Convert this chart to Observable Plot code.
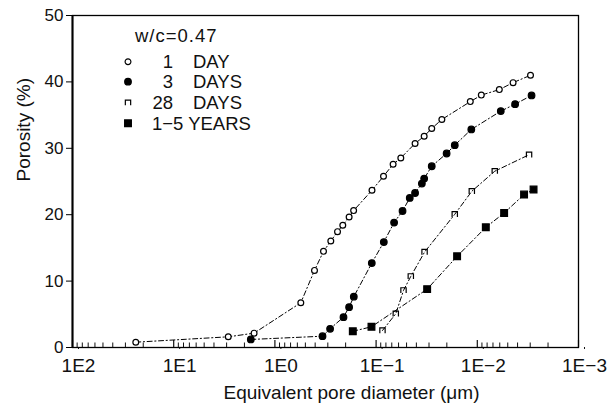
<!DOCTYPE html>
<html><head><meta charset="utf-8">
<script src="https://cdn.jsdelivr.net/npm/d3@7"></script>
<script src="https://cdn.jsdelivr.net/npm/@observablehq/plot@0.6"></script>
<style>
html,body{margin:0;padding:0;background:#fff;}
#chart{width:607px;height:409px;}
svg{font-family:"Liberation Sans",Arial,Helvetica,sans-serif;}
</style></head><body><div id="chart"></div>
<script>
// ---- data (pore diameter in µm, porosity in %) ----
const seriesNames = ["1 DAY", "3 DAYS", "28 DAYS", "1-5 YEARS"];

const day1Diam = [23.7, 2.89, 1.606, 0.5546, 0.4062, 0.331, 0.2803, 0.2406, 0.2134, 0.1848, 0.1668, 0.1098, 0.0845, 0.0679, 0.057, 0.0412, 0.0335, 0.0282, 0.0224, 0.01173, 0.00913, 0.00606, 0.00443, 0.00298];
const day1Por  = [0.8, 1.61, 2.16, 6.74, 11.61, 14.48, 16.03, 17.45, 18.4, 19.65, 20.62, 23.68, 25.79, 27.6, 28.55, 30.72, 31.82, 32.99, 34.34, 37.03, 38.01, 38.84, 39.89, 41.0];

const day3Diam = [1.73, 0.3385, 0.2848, 0.21, 0.1848, 0.1661, 0.1103, 0.0839, 0.0664, 0.0548, 0.0465, 0.0412, 0.0353, 0.0335, 0.0282, 0.0201, 0.0167, 0.01146, 0.00586, 0.00423, 0.00291];
const day3Por  = [1.21, 1.7, 2.82, 4.57, 6.08, 7.65, 12.71, 15.88, 18.81, 20.56, 22.52, 23.27, 24.69, 25.44, 27.3, 29.22, 30.47, 32.84, 35.6, 36.65, 37.96];

const day28Diam = [0.0865, 0.0639, 0.0536, 0.0454, 0.0332, 0.0167, 0.01133, 0.00672, 0.00308];
const day28Por  = [2.56, 5.08, 8.6, 10.71, 14.37, 20.06, 23.53, 26.55, 29.03];

const yearsDiam = [0.1699, 0.1111, 0.0313, 0.01583, 0.00824, 0.00543, 0.00345, 0.00278];
const yearsPor  = [2.44, 3.12, 8.79, 13.73, 18.1, 20.26, 23.03, 23.79];

const xTickValues = [100, 10, 1, 0.1, 0.01, 0.001];
const xTickLabels = ["1E2", "1E1", "1E0", "1E\u22121", "1E\u22122", "1E\u22123"];
const yTickValues = [0, 10, 20, 30, 40, 50];
const legendTitle = "w/c=0.47";
const legendNums = ["1", "3", "28", "1\u22125"];
const legendUnits = ["DAY", "DAYS", "DAYS", "YEARS"];

// ---- build tables ----
const diams = [day1Diam, day3Diam, day28Diam, yearsDiam];
const pors = [day1Por, day3Por, day28Por, yearsPor];
const rows = seriesNames.flatMap((s, k) => diams[k].map((d, i) => ({series: s, d, p: pors[k][i]})));
const labelMap = new Map(xTickValues.map((v, i) => [v, xTickLabels[i]]));
const minorTicks = [];
for (let e = -3; e < 2; e++) for (let m = 2; m <= 9; m++) minorTicks.push(+(m * Math.pow(10, e)).toPrecision(3));

// open "П"-shaped square (bottom side missing), as printed in the original
const symbolCap = {
  draw(context, size) {
    const s = Math.sqrt(size) / 2;
    context.moveTo(-s, s);
    context.lineTo(-s, -s);
    context.lineTo(s, -s);
    context.lineTo(s, s);
  }
};

const sym = {
  "1 DAY":    {symbol: d3.symbolCircle, fill: "#fff", r: 2.9},
  "3 DAYS":   {symbol: d3.symbolCircle, fill: "#000", r: 3.3},
  "28 DAYS":  {symbol: symbolCap, fill: "none", r: 3.0},
  "1-5 YEARS":{symbol: d3.symbolSquare, fill: "#000", r: 3.8}
};

function legendMark(index, scales, values, dims) {
  const g = d3.create("svg:g").attr("font-size", 18.5).attr("fill", "#111");
  const x0 = dims.marginLeft;
  g.append("text").attr("x", x0 + 63).attr("y", dims.marginTop + 26.5)
    .attr("text-anchor", "start").attr("letter-spacing", 1).text(legendTitle);
  const ys = [61.7, 81.7, 102.7, 123.3];
  seriesNames.forEach((s, i) => {
    const y = ys[i];
    const sc = sym[s];
    const size = sc.r * sc.r * Math.PI;
    g.append("path")
      .attr("d", d3.symbol(sc.symbol, size)())
      .attr("transform", `translate(${x0 + 56},${y})`)
      .attr("fill", sc.fill).attr("stroke", "#000").attr("stroke-width", 1.2);
    if (i < 3) {
      g.append("text").attr("x", x0 + 101).attr("y", y + 6.5).attr("text-anchor", "end").text(legendNums[i]);
      g.append("text").attr("x", x0 + 121).attr("y", y + 6.5).attr("text-anchor", "start").text(legendUnits[i]);
    } else {
      g.append("text").attr("x", x0 + 80).attr("y", y + 6.5).attr("text-anchor", "start")
        .text(legendNums[i] + " " + legendUnits[i]);
    }
  });
  return g.node();
}

const dash = "5,2.6,1.2,2.6";
const chart = Plot.plot({
  width: 607, height: 409,
  marginLeft: 72, marginRight: 29, marginTop: 15, marginBottom: 62,
  style: {fontFamily: "'Liberation Sans', Arial, Helvetica, sans-serif", color: "#111", background: "#fff"},
  x: {type: "log", domain: [100, 0.001]},
  y: {domain: [0, 50]},
  marks: [
    Plot.axisY({ticks: yTickValues, tickSize: 6, tickPadding: 3, fontSize: 17, label: null, stroke: "#000"}),
    Plot.axisX({ticks: xTickValues, tickFormat: d => labelMap.get(d), tickSize: 2, tickPadding: 9, dx: 6, fontSize: 19, label: null}),
    Plot.axisX({ticks: xTickValues, tickFormat: () => "", tickSize: -7, label: null, strokeWidth: 1.2}),
    Plot.axisX({ticks: minorTicks, tickFormat: () => "", tickSize: -4.5, label: null}),
    Plot.frame({stroke: "#000", strokeWidth: 1.3}),
    Plot.ruleX([100], {stroke: "#000", strokeWidth: 2}),
    Plot.line(rows, {x: "d", y: "p", z: "series", stroke: "#000", strokeWidth: 1, strokeDasharray: dash}),
    ...seriesNames.map(s => Plot.dot(rows.filter(r => r.series === s), {
      x: "d", y: "p", symbol: sym[s].symbol, r: sym[s].r, fill: sym[s].fill, stroke: "#000", strokeWidth: 1.2
    })),
    Plot.text(["Porosity (%)"], {frameAnchor: "left", rotate: -90, dx: -49, fontSize: 19, fill: "#111"}),
    Plot.text(["Equivalent pore diameter (\u03bcm)"], {frameAnchor: "bottom", dy: 51, dx: 26, fontSize: 19, fill: "#111"}),
    legendMark
  ]
});
document.getElementById("chart").append(chart);
</script>
</body></html>
